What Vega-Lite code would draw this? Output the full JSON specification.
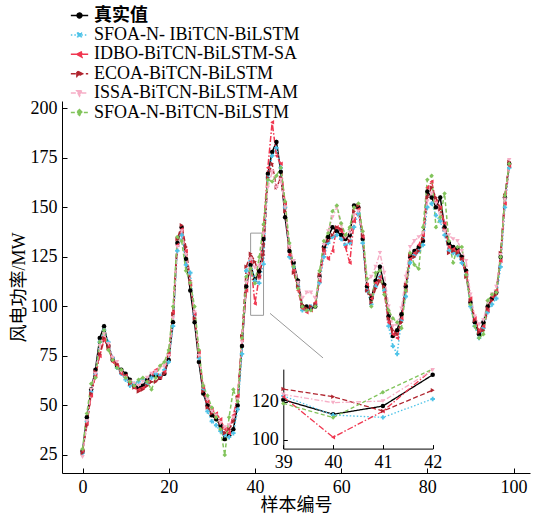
{
 "$schema": "https://vega.github.io/schema/vega-lite/v6.json",
 "width": 468, "height": 372,
 "autosize": {"type": "none"},
 "padding": {"left": 62, "top": 101, "right": 12, "bottom": 43},
 "config": {"view": {"stroke": null},
  "point": {"filled": true, "size": 20, "opacity": 1},
  "axis": {"labelFont": "Liberation Serif", "labelFontSize": 18, "labelColor": "black", "domainColor": "black", "tickColor": "black", "grid": false, "titleFont": "Liberation Serif, Noto Sans CJK SC", "titleFontSize": 18, "titleFontWeight": "normal", "titleColor": "black", "labelOverlap": false, "labelFlush": false}},
 "datasets": {
  "d": [
{"x":0,"t":27,"c":26,"r":27,"e":26,"p":24,"g":28},
{"x":1,"t":44,"c":42,"r":41,"e":40,"p":42,"g":46},
{"x":2,"t":58,"c":57,"r":55,"e":56,"p":58,"g":61},
{"x":3,"t":68,"c":66,"r":65,"e":67,"p":66,"g":64},
{"x":4,"t":84,"c":82,"r":75,"e":76,"p":80,"g":82},
{"x":5,"t":90,"c":88,"r":83,"e":84,"p":86,"g":88},
{"x":6,"t":80,"c":82,"r":80,"e":79,"p":81,"g":78},
{"x":7,"t":73,"c":74,"r":72,"e":74,"p":74,"g":73},
{"x":8,"t":70,"c":69,"r":70,"e":71,"p":72,"g":69},
{"x":9,"t":68,"c":66,"r":66,"e":67,"p":67,"g":68},
{"x":10,"t":66,"c":63,"r":65,"e":65,"p":64,"g":64},
{"x":11,"t":63,"c":60,"r":62,"e":61,"p":62,"g":62},
{"x":12,"t":60,"c":61,"r":59,"e":59,"p":61,"g":60},
{"x":13,"t":59,"c":62,"r":58,"e":57,"p":60,"g":63},
{"x":14,"t":60,"c":63,"r":59,"e":58,"p":62,"g":64},
{"x":15,"t":63,"c":61,"r":62,"e":60,"p":64,"g":62},
{"x":16,"t":65,"c":64,"r":66,"e":62,"p":66,"g":58},
{"x":17,"t":65,"c":66,"r":68,"e":62,"p":67,"g":64},
{"x":18,"t":64,"c":65,"r":64,"e":64,"p":69,"g":70},
{"x":19,"t":66,"c":68,"r":67,"e":66,"p":70,"g":72},
{"x":20,"t":73,"c":72,"r":76,"e":75,"p":75,"g":78},
{"x":21,"t":92,"c":90,"r":97,"e":96,"p":94,"g":100},
{"x":22,"t":132,"c":128,"r":131,"e":134,"p":130,"g":135},
{"x":23,"t":140,"c":136,"r":139,"e":141,"p":138,"g":133},
{"x":24,"t":124,"c":121,"r":128,"e":130,"p":126,"g":118},
{"x":25,"t":108,"c":117,"r":111,"e":113,"p":112,"g":112},
{"x":26,"t":92,"c":96,"r":96,"e":94,"p":97,"g":100},
{"x":27,"t":72,"c":74,"r":77,"e":75,"p":75,"g":78},
{"x":28,"t":56,"c":58,"r":59,"e":57,"p":60,"g":60},
{"x":29,"t":50,"c":47,"r":52,"e":49,"p":53,"g":55},
{"x":30,"t":45,"c":42,"r":48,"e":46,"p":47,"g":49},
{"x":31,"t":43,"c":40,"r":46,"e":44,"p":45,"g":44},
{"x":32,"t":40,"c":37,"r":43,"e":41,"p":41,"g":38},
{"x":33,"t":33,"c":35,"r":38,"e":36,"p":39,"g":25},
{"x":34,"t":35,"c":34,"r":36,"e":38,"p":40,"g":44},
{"x":35,"t":38,"c":36,"r":45,"e":42,"p":44,"g":58},
{"x":36,"t":50,"c":48,"r":55,"e":54,"p":53,"g":52},
{"x":37,"t":80,"c":76,"r":83,"e":85,"p":82,"g":84},
{"x":38,"t":110,"c":118,"r":108,"e":120,"p":112,"g":115},
{"x":39,"t":121,"c":123,"r":122.6,"e":126.6,"p":123.8,"g":119.1},
{"x":40,"t":113.4,"c":113,"r":101.4,"e":122.6,"p":119.5,"g":111.7},
{"x":41,"t":117.7,"c":111.8,"r":115,"e":115.1,"p":120.3,"g":124.9},
{"x":42,"t":134,"c":121.4,"r":141,"e":126,"p":136.5,"g":141.5},
{"x":43,"t":167,"c":165,"r":170,"e":165,"p":160,"g":164},
{"x":44,"t":178,"c":176,"r":193,"e":172,"p":168,"g":163},
{"x":45,"t":183,"c":180,"r":176,"e":160,"p":160,"g":166},
{"x":46,"t":168,"c":170,"r":172,"e":165,"p":164,"g":170},
{"x":47,"t":145,"c":150,"r":152,"e":148,"p":150,"g":153},
{"x":48,"t":128,"c":125,"r":126,"e":130,"p":130,"g":132},
{"x":49,"t":122,"c":120,"r":118,"e":117,"p":123,"g":120},
{"x":50,"t":113,"c":110,"r":108,"e":110,"p":112,"g":109},
{"x":51,"t":100,"c":98,"r":99,"e":101,"p":104,"g":100},
{"x":52,"t":100,"c":98,"r":97,"e":99,"p":107,"g":98},
{"x":53,"t":99,"c":100,"r":98,"e":100,"p":107,"g":98},
{"x":54,"t":100,"c":101,"r":102,"e":101,"p":104,"g":100},
{"x":55,"t":115,"c":112,"r":113,"e":116,"p":114,"g":118},
{"x":56,"t":130,"c":125,"r":128,"e":129,"p":131,"g":133},
{"x":57,"t":135,"c":132,"r":124,"e":133,"p":138,"g":137},
{"x":58,"t":140,"c":135,"r":128,"e":136,"p":145,"g":148},
{"x":59,"t":138,"c":136,"r":140,"e":140,"p":150,"g":151},
{"x":60,"t":136,"c":134,"r":138,"e":139,"p":141,"g":142},
{"x":61,"t":134,"c":131,"r":130,"e":135,"p":135,"g":136},
{"x":62,"t":136,"c":132,"r":122,"e":133,"p":137,"g":140},
{"x":63,"t":151,"c":140,"r":143,"e":148,"p":146,"g":150},
{"x":64,"t":150,"c":147,"r":149,"e":151,"p":148,"g":152},
{"x":65,"t":134,"c":132,"r":135,"e":136,"p":137,"g":138},
{"x":66,"t":110,"c":108,"r":111,"e":108,"p":113,"g":114},
{"x":67,"t":104,"c":101,"r":104,"e":102,"p":115,"g":100},
{"x":68,"t":113,"c":110,"r":112,"e":109,"p":120,"g":117},
{"x":69,"t":120,"c":115,"r":115,"e":113,"p":127,"g":118},
{"x":70,"t":111,"c":108,"r":107,"e":110,"p":117,"g":106},
{"x":71,"t":95,"c":90,"r":92,"e":94,"p":100,"g":98},
{"x":72,"t":85,"c":80,"r":86,"e":88,"p":90,"g":94},
{"x":73,"t":88,"c":76,"r":84,"e":86,"p":91,"g":92},
{"x":74,"t":96,"c":93,"r":94,"e":92,"p":99,"g":89},
{"x":75,"t":110,"c":105,"r":108,"e":111,"p":115,"g":108},
{"x":76,"t":125,"c":122,"r":124,"e":126,"p":130,"g":127},
{"x":77,"t":128,"c":126,"r":127,"e":125,"p":133,"g":121},
{"x":78,"t":130,"c":128,"r":131,"e":128,"p":135,"g":119},
{"x":79,"t":133,"c":131,"r":136,"e":134,"p":137,"g":140},
{"x":80,"t":158,"c":150,"r":160,"e":155,"p":153,"g":164},
{"x":81,"t":155,"c":152,"r":163,"e":160,"p":157,"g":166},
{"x":82,"t":150,"c":146,"r":153,"e":155,"p":152,"g":140},
{"x":83,"t":155,"c":143,"r":150,"e":149,"p":146,"g":145},
{"x":84,"t":140,"c":136,"r":142,"e":139,"p":138,"g":157},
{"x":85,"t":132,"c":128,"r":130,"e":127,"p":136,"g":133},
{"x":86,"t":130,"c":127,"r":129,"e":128,"p":134,"g":122},
{"x":87,"t":129,"c":126,"r":128,"e":127,"p":133,"g":130},
{"x":88,"t":125,"c":122,"r":124,"e":124,"p":128,"g":130},
{"x":89,"t":118,"c":116,"r":117,"e":115,"p":123,"g":116},
{"x":90,"t":102,"c":100,"r":104,"e":103,"p":106,"g":101},
{"x":91,"t":92,"c":90,"r":94,"e":93,"p":95,"g":90},
{"x":92,"t":86,"c":84,"r":88,"e":87,"p":91,"g":84},
{"x":93,"t":92,"c":89,"r":90,"e":88,"p":93,"g":86},
{"x":94,"t":100,"c":97,"r":98,"e":99,"p":102,"g":103},
{"x":95,"t":104,"c":101,"r":105,"e":103,"p":106,"g":106},
{"x":96,"t":107,"c":104,"r":108,"e":106,"p":110,"g":107},
{"x":97,"t":125,"c":120,"r":123,"e":127,"p":126,"g":125},
{"x":98,"t":155,"c":150,"r":152,"e":156,"p":154,"g":156},
{"x":99,"t":172,"c":170,"r":171,"e":173,"p":174,"g":172}
  ],
  "names": [
   {"k":"t","name":"真实值"},
   {"k":"c","name":"SFOA-N- IBiTCN-BiLSTM"},
   {"k":"r","name":"IDBO-BiTCN-BiLSTM-SA"},
   {"k":"e","name":"ECOA-BiTCN-BiLSTM"},
   {"k":"p","name":"ISSA-BiTCN-BiLSTM-AM"},
   {"k":"g","name":"SFOA-N-BiTCN-BiLSTM"}
  ]
 },
 "layer": [
  {
   "data": {"name": "d"},
   "transform": [{"fold": ["t","c","r","e","p","g"], "as": ["k","value"]}, {"lookup": "k", "from": {"data": {"name": "names"}, "key": "k", "fields": ["name"]}}],
   "layer": [
    {
     "data": {"values": [{"x": 39, "x2": 42, "y": 95.5, "y2": 137}]},
     "transform": [],
     "mark": {"type": "rect", "fill": null, "stroke": "#9a9a9a", "strokeWidth": 1},
     "encoding": {"x": {"field": "x", "type": "quantitative"}, "x2": {"field": "x2"}, "y": {"field": "y", "type": "quantitative"}, "y2": {"field": "y2"}}
    },
    {
     "data": {"values": [{"x": 43.5, "x2": 55.8, "y": 96.5, "y2": 74}]},
     "mark": {"type": "rule", "stroke": "#9a9a9a", "strokeWidth": 1},
     "encoding": {"x": {"field": "x", "type": "quantitative"}, "x2": {"field": "x2"}, "y": {"field": "y", "type": "quantitative"}, "y2": {"field": "y2"}}
    },
    {
     "mark": {"type": "line", "strokeWidth": 1.5},
     "encoding": {
      "x": {"field": "x", "type": "quantitative"},
      "y": {"field": "value", "type": "quantitative"},
      "color": {"field": "name", "type": "nominal",
        "scale": {"domain": ["真实值","SFOA-N- IBiTCN-BiLSTM","IDBO-BiTCN-BiLSTM-SA","ECOA-BiTCN-BiLSTM","ISSA-BiTCN-BiLSTM-AM","SFOA-N-BiTCN-BiLSTM"], "range": ["#000000","#4EC3E8","#F0364F","#B0252F","#F6AEC6","#82C45C"]},
        "legend": {"orient": "none", "legendX": 8, "legendY": -95, "title": null, "padding": 0, "labelFont": "Liberation Serif, Noto Sans CJK SC", "labelFontSize": 18, "labelColor": "black", "labelLimit": 0, "symbolType": "stroke", "symbolSize": 300, "symbolStrokeWidth": 1.6, "rowPadding": 0.4, "labelOffset": 5,
          "encode": {
            "labels": {"update": {"fontWeight": {"signal": "datum.label === '真实值' ? 'bold' : 'normal'"}}},
            "symbols": {"update": {
              "shape": {"signal": "datum.value === '真实值' ? 'M-1,0H1M0.28,0A0.28,0.28 0 1,1 -0.28,0A0.28,0.28 0 1,1 0.28,0Z' : datum.value === 'SFOA-N- IBiTCN-BiLSTM' ? 'M-1,0H1M-0.22,-0.22H0.22V0.22H-0.22Z' : datum.value === 'IDBO-BiTCN-BiLSTM-SA' ? 'M-1,0H1M-0.35,0L0.3,-0.33L0.3,0.33Z' : datum.value === 'ECOA-BiTCN-BiLSTM' ? 'M-1,0H1M0.35,0L-0.3,-0.33L-0.3,0.33Z' : datum.value === 'ISSA-BiTCN-BiLSTM-AM' ? 'M-1,0H1M-0.33,-0.28L0.33,-0.28L0,0.35Z' : 'M-1,0H1M0,-0.33L0.33,0L0,0.33L-0.33,0Z'"},
              "fill": {"scale": "color", "field": "value"},
              "stroke": {"scale": "color", "field": "value"},
              "strokeWidth": {"value": 1.5},
              "opacity": {"value": 1},
              "fillOpacity": {"value": 1},
              "size": {"value": 300}
            }}
          }}},
      "strokeDash": {"field": "name", "type": "nominal",
        "scale": {"domain": ["真实值","SFOA-N- IBiTCN-BiLSTM","IDBO-BiTCN-BiLSTM-SA","ECOA-BiTCN-BiLSTM","ISSA-BiTCN-BiLSTM-AM","SFOA-N-BiTCN-BiLSTM"], "range": [[1,0],[1.5,2],[6,2,1.5,2],[5,2.5],[5,2,1.5,2],[4,2.5]]}}
     }
    },
    {"transform": [{"filter": "datum.k === 't'"}], "mark": {"type": "point", "shape": "circle"}, "encoding": {"x": {"field": "x", "type": "quantitative"}, "y": {"field": "value", "type": "quantitative"}, "color": {"field": "name", "type": "nominal", "legend": null}}},
    {"transform": [{"filter": "datum.k === 'c'"}], "mark": {"type": "point", "shape": "cross"}, "encoding": {"x": {"field": "x", "type": "quantitative"}, "y": {"field": "value", "type": "quantitative"}, "color": {"field": "name", "type": "nominal", "legend": null}}},
    {"transform": [{"filter": "datum.k === 'r'"}], "mark": {"type": "point", "shape": "triangle-left"}, "encoding": {"x": {"field": "x", "type": "quantitative"}, "y": {"field": "value", "type": "quantitative"}, "color": {"field": "name", "type": "nominal", "legend": null}}},
    {"transform": [{"filter": "datum.k === 'e'"}], "mark": {"type": "point", "shape": "triangle-right"}, "encoding": {"x": {"field": "x", "type": "quantitative"}, "y": {"field": "value", "type": "quantitative"}, "color": {"field": "name", "type": "nominal", "legend": null}}},
    {"transform": [{"filter": "datum.k === 'p'"}], "mark": {"type": "point", "shape": "triangle-down"}, "encoding": {"x": {"field": "x", "type": "quantitative"}, "y": {"field": "value", "type": "quantitative"}, "color": {"field": "name", "type": "nominal", "legend": null}}},
    {"transform": [{"filter": "datum.k === 'g'"}], "mark": {"type": "point", "shape": "diamond"}, "encoding": {"x": {"field": "x", "type": "quantitative"}, "y": {"field": "value", "type": "quantitative"}, "color": {"field": "name", "type": "nominal", "legend": null}}}
   ],
   "encoding": {
    "x": {"scale": {"domain": [-4.76, 103.82], "nice": false, "zero": false},
      "axis": {"values": [0,20,40,60,80,100], "title": "样本编号", "tickSize": -5, "labelPadding": 10, "titlePadding": 0}},
    "y": {"scale": {"domain": [15.9, 203.7], "nice": false, "zero": false},
      "axis": {"values": [25,50,75,100,125,150,175,200], "title": "风电功率/MW", "tickSize": -5, "labelPadding": 10, "titlePadding": 2}}
   }
  },
  {
   "data": {"name": "d"},
   "transform": [{"fold": ["t","c","r","e","p","g"], "as": ["k","value"]}, {"lookup": "k", "from": {"data": {"name": "names"}, "key": "k", "fields": ["name"]}}, {"filter": "datum.x >= 39 && datum.x <= 42"}],
   "encoding": {
    "x": {"field": "x", "type": "quantitative", "scale": {"domain": [39, 42], "range": [221.3, 370.7], "nice": false, "zero": false},
      "axis": {"orient": "bottom", "offset": -24.4, "values": [39,40,41,42], "format": "d", "title": null, "tickSize": -4, "labelPadding": 9}},
    "y": {"field": "value", "type": "quantitative", "scale": {"domain": [95.5, 137], "range": [347.6, 268.1], "nice": false, "zero": false, "clamp": true},
      "axis": {"orient": "left", "offset": -221.3, "values": [100, 120], "title": null, "tickSize": -4, "labelPadding": 9}},
    "color": {"field": "name", "type": "nominal", "legend": null}
   },
   "layer": [
    {
     "mark": {"type": "line", "strokeWidth": 1.3},
     "encoding": {"strokeDash": {"field": "name", "type": "nominal", "legend": null}}
    },
    {"transform": [{"filter": "datum.k === 't'"}], "mark": {"type": "point", "shape": "circle"}},
    {"transform": [{"filter": "datum.k === 'c'"}], "mark": {"type": "point", "shape": "cross"}},
    {"transform": [{"filter": "datum.k === 'r' && datum.value <= 137"}], "mark": {"type": "point", "shape": "triangle-left"}},
    {"transform": [{"filter": "datum.k === 'e'"}], "mark": {"type": "point", "shape": "triangle-right"}},
    {"transform": [{"filter": "datum.k === 'p'"}], "mark": {"type": "point", "shape": "triangle-down"}},
    {"transform": [{"filter": "datum.k === 'g' && datum.value <= 137"}], "mark": {"type": "point", "shape": "diamond"}}
   ]
  }
 ],
 "resolve": {"scale": {"x": "independent", "y": "independent"}}
}
